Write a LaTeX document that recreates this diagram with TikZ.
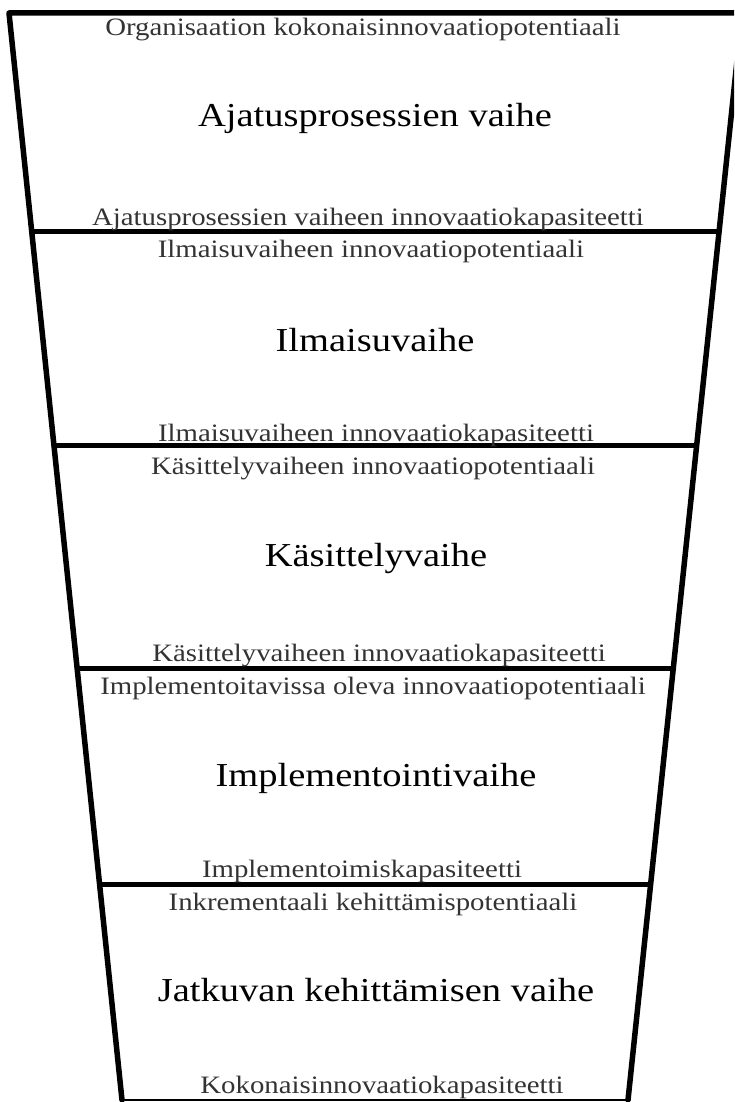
\documentclass[tikz,border=0pt]{standalone}
\usepackage{fontspec}
\usepackage{graphicx}
\setmainfont{Liberation Serif}
\usetikzlibrary{calc}
% lettering is set slightly flatter than its natural height
\newcommand{\squashtext}[1]{\scalebox{1}[0.87]{#1}}
\begin{document}
\begin{tikzpicture}[x=1pt,y=-1pt,
  side/.style={line width=5.5pt,line cap=round,line join=round},
  sep/.style={line width=5pt},
  label/.style={anchor=base,inner sep=0pt,text=black!80,font=\fontsize{28.8}{29}\selectfont},
  phase/.style={anchor=base,inner sep=0pt,text=black,font=\fontsize{38.5}{39}\selectfont}]
\useasboundingbox (0,0) rectangle (734,1102);
\clip (0,0) rectangle (734,1102);
% funnel corners
\coordinate (TL) at (9,13);
\coordinate (TR) at (742,13);
\coordinate (BL) at (122,1100);
\coordinate (BR) at (628,1100);
% ends of the stage separators on the funnel sides
\foreach \n/\t in {1/0.2006,2/0.3983,3/0.6026,4/0.8013}{
  \coordinate (L\n) at ($(TL)!\t!(BL)$);
  \coordinate (R\n) at ($(TR)!\t!(BR)$);
}
% outline
\draw[side] (BL) -- (TL) -- (TR);
\draw[side] (TR) -- (BR);
\draw[line width=1.8pt] (BL) -- (BR);
\foreach \n in {1,...,4}{\draw[sep] (L\n) -- (R\n);}
% stage 1
\node[label] (p1) at (363,36) {\squashtext{Organisaation kokonaisinnovaatiopotentiaali}};
\node[phase] (s1) at (375,127) {\squashtext{Ajatusprosessien vaihe}};
\node[label] (c1) at (368,225) {\squashtext{Ajatusprosessien vaiheen innovaatiokapasiteetti}};
% stage 2
\node[label] (p2) at (371,257) {\squashtext{Ilmaisuvaiheen innovaatiopotentiaali}};
\node[phase] (s2) at (375,351) {\squashtext{Ilmaisuvaihe}};
\node[label] (c2) at (376,441) {\squashtext{Ilmaisuvaiheen innovaatiokapasiteetti}};
% stage 3
\node[label] (p3) at (373,474) {\squashtext{Käsittelyvaiheen innovaatiopotentiaali}};
\node[phase] (s3) at (376,566) {\squashtext{Käsittelyvaihe}};
\node[label] (c3) at (379,661) {\squashtext{Käsittelyvaiheen innovaatiokapasiteetti}};
% stage 4
\node[label] (p4) at (373,694) {\squashtext{Implementoitavissa oleva innovaatiopotentiaali}};
\node[phase] (s4) at (376,786) {\squashtext{Implementointivaihe}};
\node[label] (c4) at (362,877) {\squashtext{Implementoimiskapasiteetti}};
% stage 5
\node[label] (p5) at (373,910) {\squashtext{Inkrementaali kehittämispotentiaali}};
\node[phase] (s5) at (376,1001) {\squashtext{Jatkuvan kehittämisen vaihe}};
\node[label] (c5) at (382,1093) {\squashtext{Kokonaisinnovaatiokapasiteetti}};
\end{tikzpicture}
\end{document}
